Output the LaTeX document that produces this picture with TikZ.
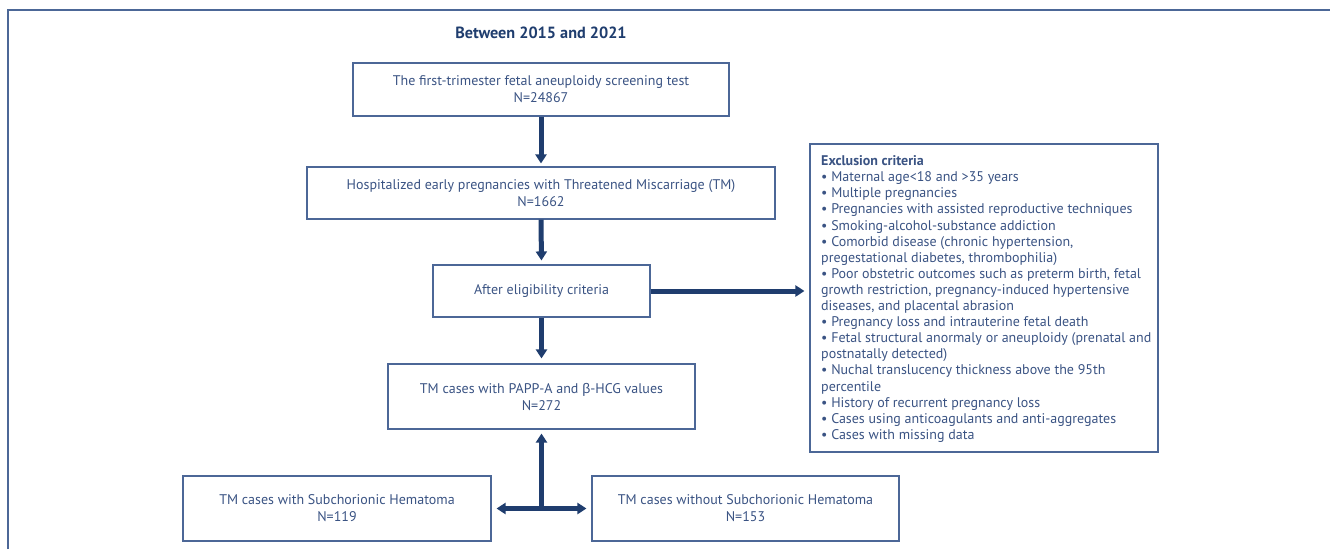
\documentclass[tikz,border=0pt]{standalone}
\usepackage{fontspec}
\setmainfont{PT Sans}
\newfontfamily\grk{Liberation Sans}
\usetikzlibrary{arrows.meta}
\definecolor{navy}{HTML}{1F3D6E}
\definecolor{txt}{HTML}{3A5383}
\definecolor{bord}{HTML}{4C6797}
\begin{document}
\begin{tikzpicture}[x=1pt,y=-1pt,
  box/.style={draw=bord, line width=1.1pt, text=txt, align=center, inner sep=0pt,
    font=\fontsize{14}{17}\selectfont},
  arr/.style={draw=navy, line width=5pt, -{Triangle[width=11pt,length=9pt]}},
  darr/.style={draw=navy, line width=5pt, {Triangle[width=11pt,length=9pt]}-{Triangle[width=11pt,length=9pt]}},
  ttl/.style={text=navy, inner sep=0pt, font=\fontsize{16.2}{19}\selectfont\bfseries},
  extxt/.style={text=txt, inner sep=0pt, align=left, anchor=north west,
    font=\fontsize{14}{16.1}\selectfont},
]
\useasboundingbox (0,0) rectangle (1330,549);
\coordinate (fa) at (8,549);
\coordinate (fb) at (8,10);
\coordinate (fc) at (1330,10);
\draw[bord, line width=1.2pt] (fa) -- (fb) -- (fc);

\node[ttl] (title) at (541,33) {Between 2015 and 2021};

\node[box, minimum width=376pt, minimum height=53pt] (b1) at (541,89.5)
  {The first-trimester fetal aneuploidy screening test\\N=24867};
\node[box, minimum width=468pt, minimum height=52pt] (b2) at (541,193)
  {Hospitalized early pregnancies with Threatened Miscarriage (TM)\\N=1662};
\node[box, minimum width=217pt, minimum height=52pt] (b3) at (541.5,291)
  {After eligibility criteria};
\node[box, minimum width=307pt, minimum height=65pt] (b4) at (541.5,396.5)
  {TM cases with PAPP-A and {\grk β}-HCG values\\N=272};
\node[box, minimum width=308pt, minimum height=65pt] (b5) at (337,508.5)
  {TM cases with Subchorionic Hematoma\\N=119};
\node[box, minimum width=307pt, minimum height=65pt] (b6) at (745.5,508.5)
  {TM cases without Subchorionic Hematoma\\N=153};

\node[draw=bord, line width=1.1pt, minimum width=348pt, minimum height=308pt, inner sep=0pt] (ex) at (984,298) {};
\node[extxt] (extext) at (821,155.5) {\textbf{Exclusion criteria}\\
• Maternal age<18 and >35 years\\
• Multiple pregnancies\\
• Pregnancies with assisted reproductive techniques\\
• Smoking-alcohol-substance addiction\\
• Comorbid disease (chronic hypertension,\\
pregestational diabetes, thrombophilia)\\
• Poor obstetric outcomes such as preterm birth, fetal\\
growth restriction, pregnancy-induced hypertensive\\
diseases, and placental abrasion\\
• Pregnancy loss and intrauterine fetal death\\
• Fetal structural anormaly or aneuploidy (prenatal and\\
postnatally detected)\\
• Nuchal translucency thickness above the 95th\\
percentile\\
• History of recurrent pregnancy loss\\
• Cases using anticoagulants and anti-aggregates\\
• Cases with missing data};

\coordinate (j) at (541.5,508.5);
\draw[arr, shorten >=3pt] (b1.south) -- (b2.north);
\draw[arr, shorten >=4pt] (b2.south) -- (b3.north);
\draw[arr, shorten >=5pt] (b3.east) -- (ex.west |- b3.east);
\draw[arr, shorten >=5pt] (b3.south) -- (b4.north);
\draw[arr, shorten >=4pt] (j) -- (b4.south);
\draw[darr, shorten >=5pt, shorten <=5pt] (b5.east) -- (b6.west);
\end{tikzpicture}
\end{document}
